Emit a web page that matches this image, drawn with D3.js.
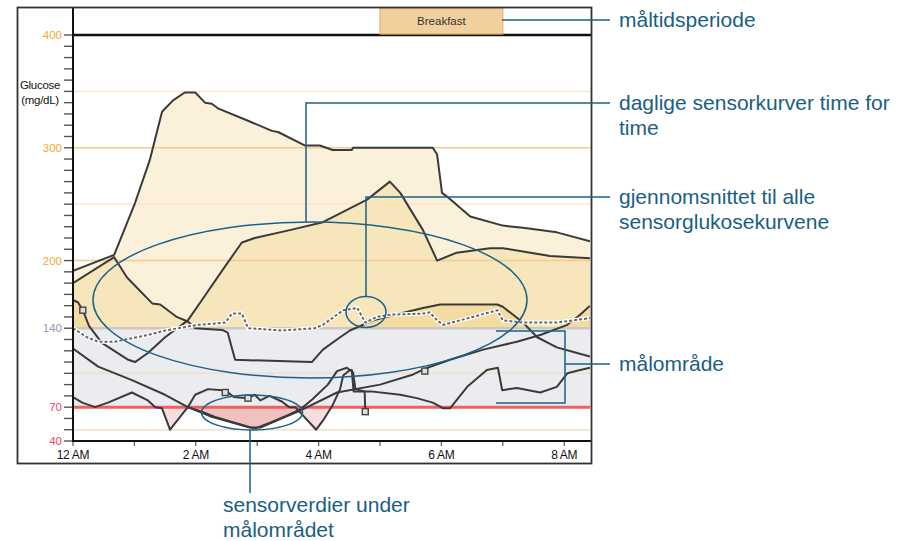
<!DOCTYPE html>
<html><head><meta charset="utf-8">
<script src="https://cdn.jsdelivr.net/npm/d3@7"></script>
<style>body{margin:0;background:#fff;} svg{display:block;font-family:"Liberation Sans",Arial,sans-serif;}</style>
</head><body>
<svg id="chart" width="913" height="541"></svg>
<script>
// ---------- data ----------
const hourTicks = [0,1,2,3,4,5,6,7,8];
const hourLabels = ["12 AM","","2 AM","","4 AM","","6 AM","","8 AM"];
const glucoseLabels = [400,300,200,140,70,40];
const gridLight = [350,250];
const gridMain = [300,200];
const gridLow = [100,50];
const targetLow = 70, targetHigh = 140;
const mealName = "Breakfast", mealStart = 5, mealEnd = 7;

const curveA = [[0,191],[0.67,205],[1.01,251],[1.25,289],[1.45,332],[1.63,342],[1.82,349],[1.99,349],[2.15,340],[2.26,339],[2.36,335],[2.85,324],[3.24,315],[3.34,314],[3.78,302],[4.02,302],[4.23,298],[4.54,298],[4.56,300],[5.86,300],[5.93,294],[6.01,260],[6.11,256],[6.47,239],[7.0,231],[7.33,229],[7.88,225],[8.42,217]];
const curveB = [[0,180],[0.67,203],[0.88,185],[1.29,162],[1.42,161],[1.69,150],[1.87,146],[1.99,140],[2.43,138.5],[2.52,136],[2.64,112],[3.89,110],[4.07,121],[4.35,132],[4.51,138],[4.89,147],[5.33,153],[5.7,158],[5.98,161],[6.91,161],[7.0,159],[7.33,145],[7.56,132],[7.88,123],[8.21,118],[8.42,115]];
const curveC = [[0,165],[0.08,163],[0.16,156],[0.26,142],[0.47,127],[0.9,112],[1.01,110],[1.22,118],[1.5,132],[1.87,147],[2.1,165],[2.44,192],[2.75,216],[2.96,220],[3.53,227],[4.07,234],[4.79,254],[5.16,270],[5.33,260],[5.7,227],[5.93,200],[6.25,207],[6.79,211],[7.0,211],[7.33,208],[7.77,204],[8.42,202]];
const curveD = [[0,122],[0.41,106],[0.96,94],[1.5,81],[1.87,70],[2.23,62],[2.88,52],[3.05,52],[3.7,67],[4.3,83],[5.0,90],[5.54,99],[5.77,105],[6.14,112],[6.68,121],[7.23,128],[7.61,134],[8.05,143],[8.26,152],[8.42,160]];
const curveE = [[0,79],[0.15,74],[0.36,70],[0.57,74],[0.96,83],[1.22,76],[1.34,70],[1.45,69],[1.58,50],[1.87,70],[1.99,81],[2.2,86],[2.43,85],[2.5,84],[2.62,79],[2.85,78],[2.96,81],[3.05,76],[3.2,80],[3.4,75],[3.52,70],[3.62,70],[3.96,50],[4.07,58],[4.23,72],[4.35,86],[4.4,98],[4.51,103],[4.54,103],[4.57,84],[4.85,84],[5.33,81],[5.6,78],[5.86,74],[6.03,69],[6.14,69],[6.42,88],[6.74,103],[6.92,105],[6.99,85],[7.23,87],[7.61,83],[7.88,88],[8.05,100],[8.26,103],[8.42,105]];
const curveF = [[1.87,70],[2.1,66],[2.33,61],[2.7,55],[2.96,51],[3.2,56],[3.5,63],[3.7,68],[3.9,77],[4.15,90],[4.3,102],[4.46,105],[4.56,101],[4.6,86],[4.75,84],[4.76,66]];
const meanCurve = [[0,140],[0.23,132],[0.41,128],[0.68,128],[1.22,134],[1.5,138],[2.04,143],[2.48,145],[2.59,153],[2.75,153],[2.85,140],[3.4,138],[3.94,140],[4.07,143],[4.4,156],[4.63,158],[4.76,145],[4.95,150],[5.16,152],[5.7,153],[5.81,154],[5.93,147],[6.03,143],[6.51,150],[6.91,156],[7.0,147],[7.33,145],[7.88,145],[8.42,149]];
const meterPoints = [[0.16,156],[2.48,83],[2.85,78],[4.76,66],[5.73,102]];

const dailyCurves = [curveA,curveB,curveC,curveD,curveE,curveF];

// ---------- layout ----------
const svg = d3.select("#chart");
const L = 73, R = 590, T = 35, B = 441;
const x = d3.scaleLinear().domain([0,8.42]).range([L,R]);
const y = d3.scaleLinear().domain([40,400]).range([B,T]);
const blue = "#1b6189";

const defs = svg.append("defs");
defs.append("clipPath").attr("id","plot").append("rect").attr("x",L).attr("y",T).attr("width",R-L).attr("height",B-T);
defs.append("clipPath").attr("id","above").append("rect").attr("x",L).attr("y",T).attr("width",R-L).attr("height",y(targetHigh)-T);
defs.append("clipPath").attr("id","below").append("rect").attr("x",L).attr("y",y(targetLow)).attr("width",R-L).attr("height",B-y(targetLow));

// target band
svg.append("rect").attr("x",L).attr("y",y(targetHigh)).attr("width",R-L).attr("height",y(targetLow)-y(targetHigh)).attr("fill","#ebecef");

// fills
const areaHigh = d3.area().x(d=>x(d[0])).y0(y(targetHigh)).y1(d=>y(d[1]));
const areaLow = d3.area().x(d=>x(d[0])).y0(y(targetLow)).y1(d=>y(d[1]));
const gHigh = svg.append("g").attr("clip-path","url(#above)");
dailyCurves.forEach(c=>gHigh.append("path").attr("d",areaHigh(c)).attr("fill","#e8a820").attr("fill-opacity",0.16));
const gLow = svg.append("g").attr("clip-path","url(#below)");
dailyCurves.forEach(c=>gLow.append("path").attr("d",areaLow(c)).attr("fill","#d04040").attr("fill-opacity",0.18));

// grid lines
const gGrid = svg.append("g");
gridLight.forEach(v=>gGrid.append("line").attr("x1",L).attr("x2",R).attr("y1",y(v)).attr("y2",y(v)).attr("stroke","#fbe3c4").attr("stroke-width",1.3));
gridMain.forEach(v=>gGrid.append("line").attr("x1",L).attr("x2",R).attr("y1",y(v)).attr("y2",y(v)).attr("stroke","#f5cb8c").attr("stroke-width",1.6));
gridLow.forEach(v=>gGrid.append("line").attr("x1",L).attr("x2",R).attr("y1",y(v)).attr("y2",y(v)).attr("stroke","#efdfca").attr("stroke-width",1.5));
gGrid.append("line").attr("x1",L).attr("x2",R).attr("y1",y(targetHigh)).attr("y2",y(targetHigh)).attr("stroke","#cdc9c2").attr("stroke-width",2.5);
gGrid.append("line").attr("x1",L).attr("x2",R).attr("y1",y(targetLow)).attr("y2",y(targetLow)).attr("stroke","#f25f5f").attr("stroke-width",3);

// curves
const line = d3.line().x(d=>x(d[0])).y(d=>y(d[1]));
const gCurves = svg.append("g").attr("clip-path","url(#plot)");
dailyCurves.forEach(c=>gCurves.append("path").attr("d",line(c)).attr("fill","none").attr("stroke","#3a3a3a").attr("stroke-width",2).attr("stroke-linejoin","round"));
gCurves.append("path").attr("d",line(meanCurve)).attr("fill","none").attr("stroke","#fff").attr("stroke-width",4);
gCurves.append("path").attr("d",line(meanCurve)).attr("fill","none").attr("stroke","#666").attr("stroke-width",2).attr("stroke-dasharray","3,2");
gCurves.selectAll("rect.m").data(meterPoints).join("rect").attr("class","m")
  .attr("x",d=>x(d[0])-3).attr("y",d=>y(d[1])-3).attr("width",6).attr("height",6)
  .attr("fill","#e0e0e0").attr("stroke","#444").attr("stroke-width",1.4);

// y axis ticks
const gY = svg.append("g");
d3.range(40,401,10).forEach(v=>gY.append("line").attr("x1",64).attr("x2",L).attr("y1",y(v)).attr("y2",y(v)).attr("stroke","#555").attr("stroke-width",1.4));
const labelColor = v => v>=200 ? "#f0a935" : (v===140 ? "#9d94bb" : "#f0485a");
gY.selectAll("text").data(glucoseLabels).join("text").attr("x",62).attr("y",d=>y(d)).attr("dy","0.35em")
  .attr("text-anchor","end").attr("font-size",11.5).attr("fill",labelColor).text(d=>d);
svg.append("text").attr("x",40).attr("y",89).attr("text-anchor","middle").attr("font-size",11.5).attr("fill","#111").attr("letter-spacing",-0.3).text("Glucose");
svg.append("text").attr("x",40).attr("y",104).attr("text-anchor","middle").attr("font-size",11.5).attr("fill","#111").attr("letter-spacing",-0.3).text("(mg/dL)");

// x axis
const gX = svg.append("g");
hourTicks.forEach(h=>gX.append("line").attr("x1",x(h)).attr("x2",x(h)).attr("y1",B).attr("y2",B+5).attr("stroke","#666").attr("stroke-width",1.3));
gX.selectAll("text").data(hourTicks).join("text").attr("x",d=>x(d)).attr("y",459).attr("text-anchor","middle")
  .attr("font-size",12).attr("fill","#111").attr("letter-spacing",-0.3).text((d,i)=>hourLabels[i]);
svg.append("line").attr("x1",L).attr("x2",R+1).attr("y1",B).attr("y2",B).attr("stroke","#111").attr("stroke-width",2);
svg.append("line").attr("x1",L).attr("x2",L).attr("y1",7).attr("y2",B+1).attr("stroke","#111").attr("stroke-width",2);
svg.append("line").attr("x1",L).attr("x2",R+1).attr("y1",T).attr("y2",T).attr("stroke","#111").attr("stroke-width",2.5);

// header meal period
svg.append("rect").attr("x",x(mealStart)).attr("y",8).attr("width",x(mealEnd)-x(mealStart)).attr("height",T-9)
  .attr("fill","#f2d09d").attr("stroke","#e2b36a").attr("stroke-width",1.2);
svg.append("text").attr("x",(x(mealStart)+x(mealEnd))/2).attr("y",25).attr("text-anchor","middle").attr("font-size",11.5).attr("fill","#333").text(mealName);

// frame
svg.append("rect").attr("x",17.5).attr("y",7.5).attr("width",574).attr("height",456).attr("fill","none").attr("stroke","#333").attr("stroke-width",1.8);

// ---------- annotations ----------
const gA = svg.append("g").attr("stroke",blue).attr("stroke-width",1.5).attr("fill","none");
gA.append("line").attr("x1",502).attr("x2",610).attr("y1",20).attr("y2",20);
gA.append("polyline").attr("points","306,222 306,103 610,103");
gA.append("polyline").attr("points","366,297 366,197 610,197");
gA.append("polyline").attr("points","496,331 565,331 565,403 496,403");
gA.append("line").attr("x1",565).attr("x2",610).attr("y1",364).attr("y2",364);
gA.append("ellipse").attr("cx",310).attr("cy",300).attr("rx",217).attr("ry",78);
gA.append("ellipse").attr("cx",366).attr("cy",312).attr("rx",20).attr("ry",15.5);
gA.append("ellipse").attr("cx",252).attr("cy",412.5).attr("rx",50.5).attr("ry",17.5);
gA.append("line").attr("x1",250).attr("x2",250).attr("y1",430).attr("y2",493);

const notes = [
  {x:619,y:27,t:"måltidsperiode"},
  {x:619,y:110,t:"daglige sensorkurver time for"},
  {x:619,y:135,t:"time"},
  {x:619,y:204,t:"gjennomsnittet til alle"},
  {x:619,y:229,t:"sensorglukosekurvene"},
  {x:619,y:371,t:"målområde"},
  {x:223,y:512,t:"sensorverdier under"},
  {x:223,y:537,t:"målområdet"}
];
svg.append("g").selectAll("text").data(notes).join("text").attr("x",d=>d.x).attr("y",d=>d.y)
  .attr("font-size",21).attr("fill","#1a5e86").text(d=>d.t);
</script>
</body></html>
